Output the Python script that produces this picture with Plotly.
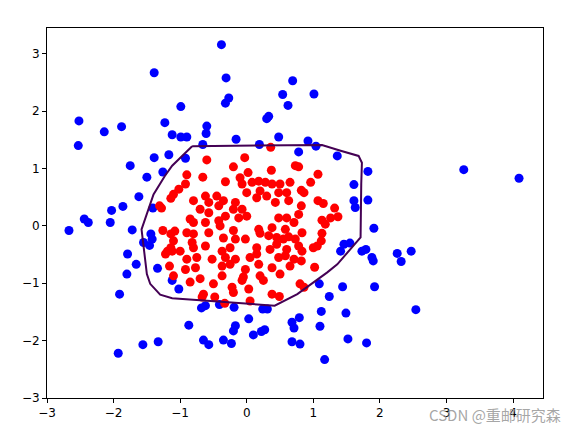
import plotly.graph_objects as go

# blue class (outer ring)
blue_x = [-1.39, -2.52, -2.14, -1.88, -1.23, -2.53, -1.12, -0.38, -0.31, -0.27, -0.32, -0.99,
          0.69, 0.54, 0.62, 0.33, 0.30, -0.60, -0.61, -0.99, -0.90, -0.16, 0.48, -0.66, 0.19,
          1.01, 0.92, 1.04, 0.78, 1.36, -0.92, -1.75, -1.39, -1.17, -1.50, -1.26, -1.62, -1.86,
          -2.03, -2.44, -2.38, -2.05, -2.67, -1.72, -1.41, -1.44, -1.42, -1.55, -1.46, -1.79,
          -1.66, -1.34, -1.80, -1.91, -1.93, -1.56, -1.33, -1.12, -1.02, -0.68, -0.62, -0.41,
          -0.19, -0.87, 0.03, -0.17, -0.20, 0.10, 0.27, 0.22, -0.65, -0.57, -0.35, -0.23, 0.24,
          0.31, 0.68, 0.71, 0.68, 1.09, 1.44, 1.92, 1.24, 2.54, 1.12, 1.49, 0.79, 1.10, 0.80,
          1.52, 1.80, 1.17, 1.82, 1.61, 1.61, 1.63, 1.82, 1.91, 1.46, 1.55, 1.41, 1.73, 1.79,
          1.88, 1.90, 2.26, 2.32, 2.47, 3.26, 4.09]
blue_y = [2.67, 1.83, 1.64, 1.73, 1.80, 1.40, 1.59, 3.16, 2.58, 2.23, 2.14, 2.08,
          2.53, 2.29, 2.10, 1.91, 1.87, 1.74, 1.61, 1.55, 1.55, 1.51, 1.55, 1.42, 1.42,
          2.30, 1.48, 1.39, 1.29, 1.22, 1.18, 1.05, 1.19, 1.24, 0.85, 0.94, 0.51, 0.34,
          0.27, 0.12, 0.06, 0.06, -0.08, -0.07, 0.31, -0.14, -0.23, -0.29, -0.34, -0.49,
          -0.67, -0.74, -0.84, -1.19, -2.22, -2.07, -2.02, -0.95, -1.10, -1.43, -1.39, -1.37,
          -1.42, -1.73, -1.62, -1.74, -1.83, -1.90, -1.81, -1.84, -1.99, -2.07, -1.99, -2.05, -1.45,
          -1.45, -1.68, -1.78, -2.02, -1.01, -1.06, -1.06, -1.23, -1.46, -1.49, -1.52, -1.60, -1.75, -2.06,
          -1.97, -2.04, -2.33, 0.95, 0.72, 0.44, 0.32, 0.45, -0.04, -0.32, -0.30, -0.44, -0.44, -0.41,
          -0.55, -0.61, -0.48, -0.62, -0.44, 0.98, 0.83]

# red class (inner cluster)
red_x = [0.36, -0.60, -0.03, -0.20, 0.02, -0.90, -0.66, 0.37, 0.73, -0.32, -0.10, -0.07, 0.08,
         0.18, 0.28, 0.38, 0.50, 0.65, -0.92, -1.02, -1.10, -0.62, -0.45, 0.00, 0.20, 0.15,
         0.30, 0.48, 0.60, 0.63, 0.43, -0.80, -0.57, -0.35, -0.17, -0.70, -0.57, -0.42, -0.20,
         -0.07, 0.00, -0.32, -0.12, -0.85, -0.80, -0.62, -0.42, -0.40, 0.48, 0.60, 0.58, 0.71,
         0.38, 0.18, 0.20, -1.08, -0.90, -0.80, -0.57, -0.20, -0.35, 0.33, 0.45, 0.63, -1.10,
         -0.82, -1.00, -0.80, -0.62, -0.37, -0.25, -0.17, -0.02, 0.15, 0.35, 0.45, 0.55, 0.60,
         0.73, -1.12, -0.90, -0.75, -0.52, -0.32, -0.17, 0.05, 0.15, 0.18, 0.48, 0.58, 0.71,
         -0.92, -0.77, -0.37, -0.25, -0.02, 0.38, 0.65,
         0.78, 1.07, 0.96, 0.82, 0.86, 0.82, 0.78, 1.07, 1.15, 1.32, 1.26, 1.37, 1.13, 1.18,
         0.83, 1.13, 1.12, 1.06, 1.00, 0.83, 0.78, 0.82, 1.02,
         -1.31, -1.28, -1.14, -1.26, -1.14, -1.19, -1.22, -1.14, -1.16,
         -0.85, -0.70, -0.50, -0.37, -0.65, -0.67, -0.48, -0.33, -0.22, -0.20, -0.07, 0.03,
         0.20, 0.25, 0.38, 0.49, 0.05, -0.05, 0.50, 0.80, 0.86, -1.10]
red_y = [1.37, 1.15, 1.19, 1.03, 0.93, 0.89, 0.85, 0.97, 1.05, 0.77, 0.84, 0.73, 0.76,
         0.78, 0.76, 0.73, 0.73, 0.76, 0.73, 0.64, 0.55, 0.52, 0.52, 0.58, 0.61, 0.49,
         0.52, 0.58, 0.58, 0.44, 0.41, 0.44, 0.41, 0.44, 0.41, 0.29, 0.23, 0.35, 0.29,
         0.29, 0.17, 0.17, 0.14, 0.12, 0.06, 0.06, 0.09, 0.00, 0.14, 0.14, -0.06, 0.06,
         -0.03, -0.06, -0.13, -0.09, -0.12, -0.14, -0.12, -0.08, -0.21, -0.17, -0.20, -0.19, -0.26,
         -0.29, -0.44, -0.38, -0.35, -0.44, -0.38, -0.23, -0.23, -0.38, -0.41, -0.32, -0.23, -0.41,
         -0.23, -0.44, -0.58, -0.55, -0.58, -0.55, -0.58, -0.55, -0.49, -0.67, -0.55, -0.52, -0.58,
         -0.76, -0.73, -0.70, -0.67, -0.76, -0.73, -0.70,
         1.03, 0.90, 0.76, 0.62, 0.58, 0.35, 0.20, 0.44, 0.39, 0.31, 0.14, 0.16, 0.10, 0.03,
         -0.12, -0.13, -0.26, -0.35, -0.38, -0.44, -0.35, -0.61, -0.72,
         0.35, 0.31, 0.48, -0.08, -0.14, -0.44, -0.49, -0.38, -0.70,
         -0.98, -0.92, -1.01, -0.87, -1.19, -1.24, -1.24, -1.35, -1.07, -1.16, -0.95, -1.10,
         -0.87, -0.95, -1.19, -1.23, -1.31, -0.89, -0.84, -1.01, -1.07, -0.87]

# decision boundary (contour level)
bound_x = [-0.82, 0.76, 1.13, 1.41, 1.68, 1.73, 1.72, 1.71, 1.53, 1.36, 1.21, 0.76, 0.42,
           -1.12, -1.30, -1.45, -1.50, -1.55, -1.58, -1.40, -1.23, -1.12, -0.90, -0.82]
bound_y = [1.39, 1.41, 1.41, 1.31, 1.22, 1.10, 0.73, -0.20, -0.44, -0.67, -0.81, -1.19, -1.39,
           -1.26, -1.20, -1.01, -0.84, -0.38, -0.06, 0.55, 0.87, 1.05, 1.31, 1.39]

x_ticks = [-3, -2, -1, 0, 1, 2, 3, 4]
y_ticks = [-3, -2, -1, 0, 1, 2, 3]


def lab(v):
    return str(v).replace("-", "\u2212")


fig = go.Figure()
fig.add_trace(go.Scatter(x=blue_x, y=blue_y, mode="markers",
                         marker=dict(color="#0000ff", size=9, line=dict(width=0))))
fig.add_trace(go.Scatter(x=red_x, y=red_y, mode="markers",
                         marker=dict(color="#ff0000", size=9, line=dict(width=0))))
fig.add_trace(go.Scatter(x=bound_x, y=bound_y, mode="lines",
                         line=dict(color="#440154", width=2)))

axis_common = dict(showgrid=False, zeroline=False, showline=True, linecolor="black",
                   linewidth=1, mirror=True, ticks="outside", ticklen=4, tickcolor="black",
                   tickfont=dict(family="DejaVu Sans", size=12, color="black"))

fig.update_xaxes(range=[-3, 4.45], tickvals=x_ticks, ticktext=[lab(v) for v in x_ticks],
                 **axis_common)
fig.update_yaxes(range=[-3, 3.45], tickvals=y_ticks, ticktext=[lab(v) for v in y_ticks],
                 **axis_common)

# watermark
fig.add_annotation(text="CSDN @重邮研究森", xref="paper", yref="paper", x=1.04, y=-0.045,
                   xanchor="right", yanchor="middle", showarrow=False,
                   font=dict(family="Noto Sans CJK SC", size=15, color="rgba(150,150,150,0.85)"))

# page body has an 8px margin, so shift the plot box back by that much
fig.update_layout(width=579, height=432, showlegend=False,
                  margin=dict(l=39, r=44, t=20, b=42),
                  plot_bgcolor="white", paper_bgcolor="white")

fig.write_html("out.html")
